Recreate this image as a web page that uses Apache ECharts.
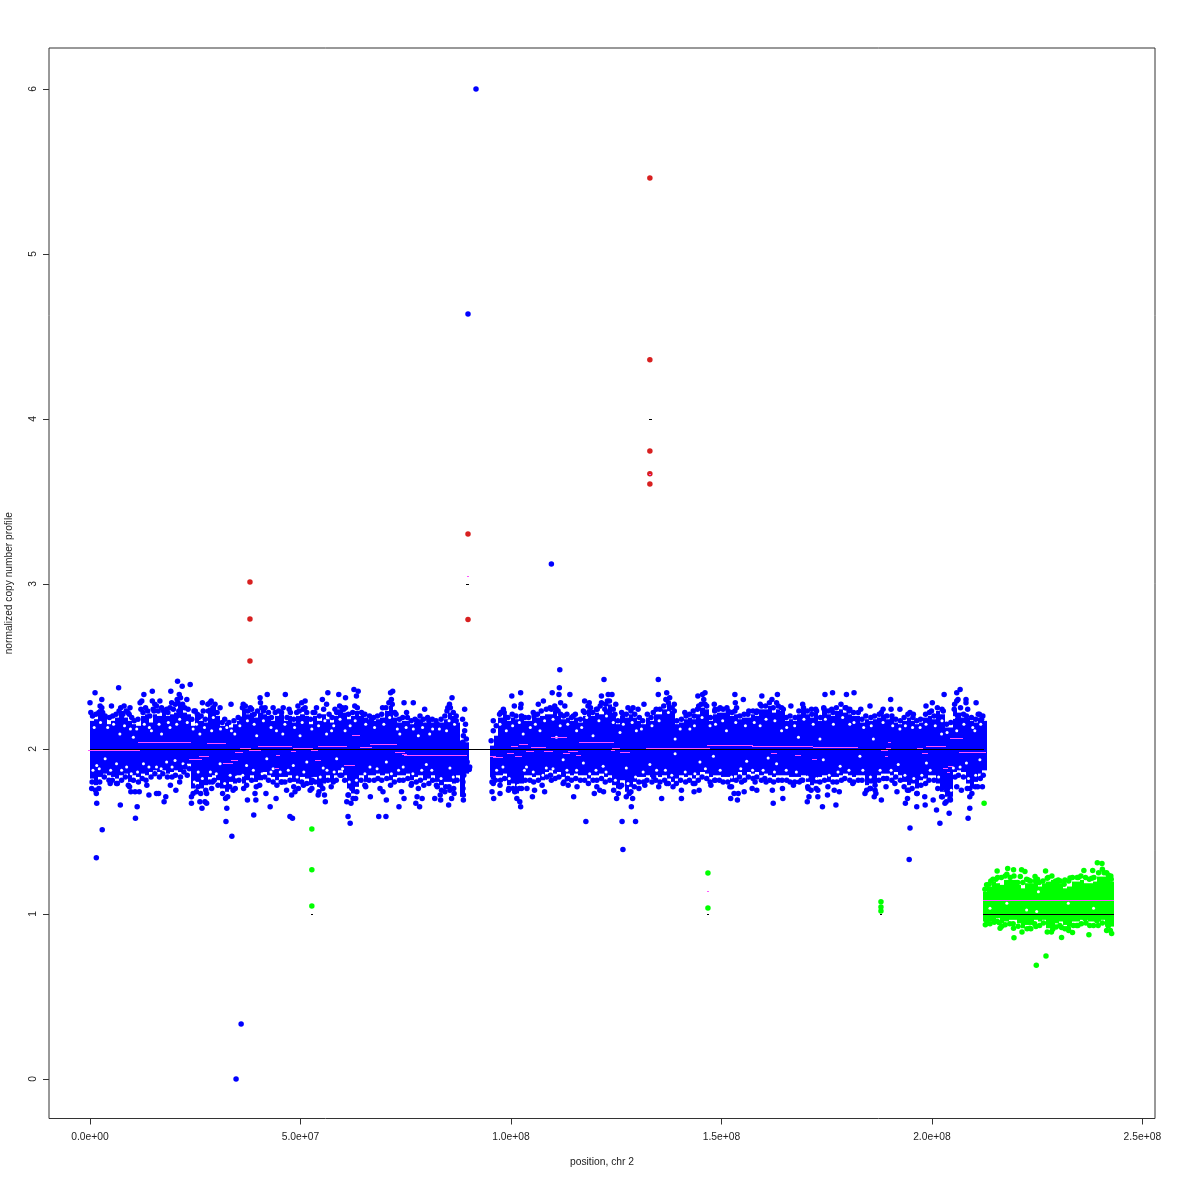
<!DOCTYPE html>
<html><head><meta charset="utf-8">
<style>html,body{margin:0;padding:0;background:#fff}#c{width:1180px;height:1180px}</style>
<script src="https://cdn.jsdelivr.net/npm/echarts@6/dist/echarts.min.js"></script></head>
<body><div id="c"></div>
<script>
// positions in Mb, values in copy number
const xTicks=[0,5e7,1e8,1.5e8,2e8,2.5e8];
const xTickLabels=['0.0e+00','5.0e+07','1.0e+08','1.5e+08','2.0e+08','2.5e+08'];
const yTicks=[0,1,2,3,4,5,6];
// dense cloud: upper and lower edge of the solid cloud, one value per 1 Mb
const leftArmStart=0;
const leftArmTop=[2.17,2.18,2.24,2.19,2.15,2.17,2.19,2.23,2.19,2.17,2.15,2.14,2.20,2.21,2.16,2.21,2.20,2.22,2.20,2.21,2.22,2.28,2.22,2.21,2.14,2.21,2.17,2.16,2.25,2.26,2.20,2.14,2.16,2.13,2.15,2.17,2.24,2.21,2.22,2.19,2.22,2.21,2.20,2.17,2.20,2.21,2.17,2.20,2.16,2.20,2.21,2.20,2.15,2.20,2.17,2.21,2.18,2.16,2.20,2.24,2.22,2.18,2.20,2.23,2.20,2.19,2.18,2.17,2.18,2.19,2.23,2.26,2.19,2.16,2.17,2.17,2.15,2.16,2.18,2.16,2.17,2.16,2.15,2.16,2.18,2.22,2.20,2.16,2.05,2.04];
const leftArmBottom=[1.82,1.78,1.83,1.85,1.84,1.83,1.82,1.84,1.85,1.80,1.84,1.83,1.85,1.84,1.86,1.87,1.86,1.87,1.85,1.86,1.87,1.86,1.89,1.91,1.76,1.80,1.76,1.78,1.83,1.84,1.81,1.76,1.74,1.80,1.79,1.84,1.79,1.81,1.84,1.80,1.81,1.86,1.84,1.83,1.81,1.83,1.83,1.84,1.80,1.79,1.83,1.82,1.78,1.83,1.77,1.79,1.84,1.80,1.84,1.87,1.84,1.76,1.73,1.77,1.84,1.80,1.84,1.84,1.85,1.84,1.85,1.81,1.83,1.84,1.84,1.85,1.81,1.83,1.84,1.81,1.82,1.84,1.80,1.78,1.80,1.80,1.79,1.84,1.71,1.85];
const rightArmStart=95;
const rightArmTop=[2.02,2.08,2.19,2.21,2.17,2.19,2.18,2.21,2.17,2.17,2.19,2.19,2.20,2.21,2.21,2.23,2.20,2.18,2.19,2.17,2.19,2.16,2.20,2.24,2.20,2.22,2.21,2.24,2.27,2.22,2.15,2.20,2.19,2.21,2.19,2.17,2.15,2.19,2.17,2.21,2.21,2.24,2.28,2.23,2.15,2.16,2.18,2.19,2.18,2.21,2.25,2.24,2.17,2.21,2.22,2.22,2.23,2.20,2.21,2.18,2.19,2.19,2.21,2.20,2.24,2.24,2.26,2.22,2.24,2.23,2.17,2.18,2.17,2.21,2.24,2.21,2.19,2.22,2.17,2.23,2.21,2.20,2.23,2.24,2.22,2.21,2.20,2.20,2.16,2.18,2.17,2.18,2.19,2.21,2.18,2.18,2.16,2.15,2.17,2.19,2.17,2.15,2.16,2.19,2.20,2.18,2.23,2.21,2.13,2.13,2.24,2.22,2.19,2.19,2.17,2.16,2.19,2.17];
const rightArmBottom=[1.83,1.84,1.84,1.85,1.78,1.79,1.73,1.79,1.84,1.84,1.83,1.84,1.81,1.86,1.87,1.85,1.86,1.83,1.85,1.84,1.85,1.84,1.84,1.82,1.84,1.84,1.85,1.83,1.84,1.78,1.76,1.81,1.74,1.77,1.80,1.83,1.83,1.84,1.83,1.84,1.83,1.84,1.82,1.80,1.82,1.84,1.83,1.84,1.82,1.84,1.86,1.85,1.83,1.84,1.84,1.83,1.83,1.80,1.84,1.86,1.84,1.86,1.85,1.86,1.84,1.85,1.84,1.83,1.84,1.84,1.84,1.83,1.83,1.83,1.84,1.80,1.78,1.79,1.83,1.84,1.80,1.83,1.83,1.84,1.85,1.84,1.83,1.84,1.84,1.78,1.79,1.78,1.84,1.85,1.85,1.84,1.86,1.84,1.80,1.78,1.79,1.76,1.81,1.82,1.84,1.84,1.79,1.74,1.71,1.71,1.86,1.87,1.86,1.79,1.76,1.80,1.85,1.87];
const greenArmStart=212.2;
const greenArmTop=[1.135,1.166,1.196,1.186,1.176,1.206,1.206,1.206,1.176,1.155,1.186,1.186,1.196,1.166,1.186,1.196,1.206,1.186,1.186,1.155,1.166,1.196,1.196,1.206,1.186,1.186,1.196,1.226,1.226,1.226,1.196];
const greenArmBottom=[0.954,0.954,0.964,0.974,0.943,0.954,0.964,0.964,0.943,0.913,0.933,0.933,0.964,0.954,0.964,0.913,0.913,0.943,0.954,0.933,0.923,0.954,0.954,0.964,0.964,0.954,0.954,0.954,0.964,0.923,0.923];
const bluePoints=[[1.2,2.34],[0,2.28],[0.2,2.22],[2.8,2.30],[2.8,2.25],[2.1,2.22],[3,2.22],[5.1,2.26],[6.8,2.37],[6.9,2.23],[8.1,2.26],[9.5,2.25],[9.3,2.21],[12.8,2.33],[12.3,2.29],[11.9,2.28],[14.8,2.35],[14.8,2.29],[15.4,2.27],[15.2,2.23],[16.6,2.29],[18.2,2.24],[19.2,2.35],[19.4,2.28],[20.8,2.41],[21.9,2.38],[23.8,2.39],[21.2,2.33],[20.7,2.30],[23,2.30],[21.8,2.25],[21.1,2.23],[24.7,2.23],[26.7,2.28],[26.9,2.23],[25.5,2.21],[28.5,2.28],[29.7,2.27],[28.1,2.23],[30.9,2.25],[33.5,2.27],[36.4,2.27],[36.8,2.23],[36,2.18],[38.4,2.24],[40.4,2.31],[42.1,2.33],[40.5,2.28],[41.6,2.25],[43.5,2.25],[46.4,2.33],[45.9,2.25],[47.3,2.24],[49.4,2.26],[51.1,2.29],[50.3,2.28],[49.1,2.22],[51.1,2.25],[53,2.22],[53.8,2.25],[55.2,2.30],[56.5,2.34],[56.2,2.27],[59.1,2.33],[58.2,2.24],[60.7,2.31],[60.7,2.25],[62.7,2.36],[63.7,2.35],[63.3,2.32],[62.9,2.26],
[1.6,1.67],[2.9,1.51],[1.5,1.34],[1.5,1.73],[0.4,1.76],[2.1,1.76],[4.8,1.79],[6.3,1.79],[7.2,1.66],[9.1,1.78],[10.8,1.58],[11.2,1.65],[10.7,1.74],[9.7,1.74],[11.7,1.74],[13.5,1.78],[14,1.72],[15.8,1.73],[16.3,1.73],[17.6,1.68],[18,1.71],[19.1,1.78],[20.4,1.75],[21.3,1.80],[22.6,1.89],[23.1,1.84],[24.1,1.67],[24.1,1.71],[26.1,1.68],[27.3,1.68],[27.7,1.67],[26.6,1.64],[27.7,1.73],[28.9,1.76],[29.1,1.80],[25.3,1.74],[32.5,1.64],[32.3,1.56],[33.7,1.47],[32.7,1.71],[34,1.75],[37.4,1.69],[38.9,1.60],[39.4,1.69],[39.2,1.73],[41.8,1.73],[42.8,1.65],[44.2,1.70],[45.4,1.80],[46.7,1.75],[47.9,1.72],[48.7,1.74],[47.5,1.59],[48.1,1.58],[50.7,1.78],[52.8,1.81],[54.2,1.72],[55.7,1.72],[55.9,1.68],[52.7,1.76],[54.8,1.78],[57.8,1.80],[59.8,1.84],[61.3,1.59],[61.8,1.55],[61,1.68],[62,1.67],[63.1,1.70],[61.4,1.72],[62.2,1.76],
[71.4,2.34],[71.9,2.35],[71.8,2.27],[74.6,2.28],[76.8,2.28],[79.5,2.24],[69.5,2.25],[75.2,2.22],[86,2.31],[85.6,2.25],[84.8,2.23],[89,2.24],[88.5,2.18],[87,2.20],[82.5,2.15],[64.9,2.21],[66.9,2.18],[72.4,2.22],[77.6,2.17],[80.5,2.17],[89,2.11],[88.6,2.04],
[95.8,2.17],[95.8,2.11],[97.6,2.22],[98.4,2.22],[100.2,2.32],[102.3,2.34],[100.8,2.26],[102.3,2.25],[102.5,2.20],[105.3,2.22],[106.5,2.27],[107.7,2.29],[109.8,2.34],[111.6,2.48],[111.5,2.37],[111.4,2.33],[111.8,2.28],[114,2.33],[112.8,2.26],[109.6,2.24],[111.8,2.21],[117.5,2.29],[118.6,2.28],[117.5,2.22],[122.1,2.42],[121.5,2.32],[123.1,2.33],[124,2.33],[122.9,2.29],[124.9,2.27],[121.5,2.28],[122.3,2.24],[120.3,2.24],[124.7,2.21],[126.6,2.21],[127.8,2.25],[129,2.25],[130.2,2.24],[131.6,2.27],[135,2.42],[135,2.33],[133.8,2.22],[114.8,2.20],
[65.3,1.78],[66.6,1.71],[68.6,1.59],[70.3,1.59],[69.6,1.74],[70.4,1.69],[68.9,1.76],[73.4,1.65],[74.6,1.70],[74,1.74],[77.4,1.67],[78.3,1.65],[78.9,1.70],[77.7,1.71],[78,1.76],[76.4,1.79],[83.3,1.69],[81.9,1.70],[83.2,1.72],[85.2,1.66],[84.3,1.74],[85.5,1.75],[86.5,1.73],[85.9,1.70],[82.3,1.78],[88.7,1.69],[88.7,1.72],[88.6,1.76],[88.6,1.80],[88.8,1.84],[90.1,1.875],[90.2,1.89],[89.6,1.92],[88.8,1.95],
[95.5,1.74],[95.9,1.70],[97.4,1.73],[97.4,1.78],[95.8,1.79],[95.8,1.83],[99.5,1.76],[100.9,1.74],[102.1,1.68],[102.3,1.65],[102,1.76],[103.8,1.76],[105.6,1.75],[105.1,1.71],[108,1.74],[109.6,1.81],[112.4,1.79],[113.6,1.78],[113.4,1.82],[115.7,1.77],[114.9,1.71],[117.8,1.56],[119.8,1.73],[121.1,1.75],[122,1.74],[120.4,1.77],[125.1,1.70],[125.9,1.77],[126.4,1.56],[126.6,1.39],[128.6,1.65],[128.9,1.70],[129.6,1.56],[128.1,1.73],[130.4,1.76],[131.8,1.78],[133.9,1.83],[135.1,1.77],
[137,2.34],[137.4,2.28],[138.8,2.27],[138.8,2.23],[141.3,2.22],[143.3,2.23],[144.4,2.32],[145.5,2.33],[146.1,2.34],[146.1,2.27],[144.6,2.26],[148.3,2.27],[148.5,2.24],[149.7,2.25],[151.6,2.23],[153.2,2.33],[153.3,2.28],[155.2,2.30],[153.2,2.23],[156.5,2.23],[159.6,2.32],[158.4,2.23],[159.5,2.26],[162,2.30],[163.3,2.33],[163.1,2.28],[164.7,2.24],[166.5,2.26],[169.3,2.27],[171.4,2.24],[172.6,2.23],[174.6,2.33],[176.4,2.34],[174.4,2.24],[176.2,2.24],[179.7,2.33],[181.5,2.34],[179.6,2.25],[180.5,2.24],[183.1,2.24],[185.3,2.26],[188,2.22],[190.2,2.30],[190.3,2.24],[192.4,2.24],[190.6,2.18],[194.8,2.22],[195.6,2.21],[198.6,2.26],[200.1,2.28],[202.9,2.33],[199.9,2.23],[202.7,2.23],[205.9,2.34],[206.7,2.36],[205.9,2.29],[205.3,2.24],[208.1,2.30],[208.1,2.28],[210.5,2.28],[211,2.21],[208.2,2.20],[211.8,2.18],
[135.8,1.70],[137,1.79],[140.5,1.75],[140.5,1.70],[143.5,1.74],[144.7,1.75],[143.7,1.79],[147.5,1.78],[148.5,1.81],[152.2,1.70],[153.8,1.69],[153,1.73],[154,1.73],[155.4,1.74],[152,1.77],[154.8,1.80],[157.3,1.76],[158.4,1.75],[158,1.80],[160.6,1.80],[162.3,1.67],[162.1,1.75],[164.6,1.70],[164.5,1.76],[167.1,1.78],[169,1.81],[170.6,1.76],[170.8,1.71],[170.4,1.68],[172.9,1.71],[172.9,1.75],[174,1.65],[175.2,1.72],[176.8,1.75],[177.2,1.66],[178,1.74],[181.2,1.79],[184.1,1.73],[186.5,1.78],[185.3,1.76],[186.7,1.73],[188,1.69],[186.3,1.71],[189.1,1.77],[191.7,1.74],[191.2,1.79],[193.7,1.67],[194.2,1.70],[196.4,1.65],[194.8,1.52],[194.6,1.33],[194.2,1.75],[196.4,1.73],[198.3,1.71],[198.4,1.66],[200.3,1.69],[201.1,1.63],[201.9,1.55],[204.1,1.61],[203.1,1.67],[204.4,1.69],[202.3,1.71],[205.9,1.77],[207,1.75],[209,1.71],[209,1.64],[208.6,1.58],[210.9,1.77],[212,1.77],[209,1.76],[203.5,1.75],
[91.7,6.0],[89.8,4.636],[109.6,3.12],[34.7,0],[35.9,0.333]];
// points along the cloud's upper and lower rim
const blueRimTop=[[0.6,2.20],[1.4,2.21],[2.4,2.26],[2.6,2.20],[3.6,2.20],[4.6,2.19],[5.4,2.20],[6.2,2.21],[7.3,2.25],[7.8,2.21],[8.6,2.23],[9,2.22],[9.9,2.19],[10.5,2.17],[11.4,2.18],[12.1,2.24],[12.6,2.22],[13.2,2.25],[13.7,2.23],[14.2,2.20],[15,2.24],[15.8,2.26],[16.2,2.23],[17,2.25],[17.5,2.23],[18.5,2.22],[19,2.25],[19.8,2.24],[20.3,2.27],[20.9,2.28],[21.5,2.31],[22,2.27],[22.5,2.25],[23.3,2.24],[24.2,2.18],[25,2.23],[25.8,2.19],[26.4,2.20],[27.4,2.18],[28,2.27],[28.8,2.29],[29.2,2.25],[30.2,2.22],[31.4,2.16],[32,2.18],[33,2.16],[34.2,2.17],[35.2,2.19],[36.2,2.25],[36.9,2.26],[37.5,2.23],[38.1,2.25],[39,2.21],[39.8,2.23],[40.8,2.25],[41.2,2.23],[42.4,2.22],[43.1,2.19],[44,2.22],[44.8,2.23],[45.5,2.22],[46.8,2.19],[47.6,2.22],[48.4,2.18],[49.7,2.23],[50.6,2.24],[51.5,2.22],[52.4,2.18],[53.4,2.22],[54.5,2.20],[55.5,2.24],[56.8,2.21],[57.5,2.19],[58.6,2.22],[59.3,2.26],[59.9,2.25],[60.3,2.24],[61.4,2.21],[62.4,2.22],[63.5,2.25],[64.5,2.22],[65.3,2.21],[66.4,2.20],[67.4,2.19],[68.3,2.20],[69.3,2.21],[70.3,2.25],[71,2.28],[71.6,2.30],[72.7,2.21],[73.5,2.18],[74.3,2.19],[75.4,2.19],[76.3,2.17],[77.2,2.18],[78.4,2.20],[79.2,2.18],[80.2,2.19],[81.3,2.18],[82.2,2.17],[83.4,2.18],[84.3,2.20],[85,2.25],[85.4,2.27],[86.3,2.22],[87,2.17],[88.7,2.08],[89.2,2.15],[89.4,2.06],
[95.3,2.05],[96.5,2.14],[97.3,2.21],[98.2,2.24],[99.3,2.19],[100.3,2.21],[101.2,2.20],[102.4,2.27],[103.3,2.19],[104.2,2.19],[105.5,2.20],[106.3,2.21],[107.2,2.23],[108.4,2.24],[109.3,2.25],[110.4,2.26],[110.8,2.24],[111.2,2.23],[112.5,2.20],[113.3,2.21],[114.4,2.19],[115.3,2.21],[116.5,2.18],[117.2,2.23],[118.3,2.26],[118.9,2.25],[119.4,2.22],[120.5,2.24],[121.2,2.26],[122.5,2.27],[123.4,2.29],[124.3,2.24],[125.4,2.17],[126.3,2.22],[127.4,2.21],[128.5,2.23],[129.4,2.21],[130.5,2.19],[131.3,2.17],[132.4,2.21],[133.3,2.19],[134.5,2.24],[135.4,2.24],[136.3,2.26],[136.8,2.30],[137.7,2.31],[138.3,2.25],[139.4,2.17],[140.5,2.18],[141.6,2.20],[142.4,2.21],[143.5,2.20],[144.3,2.24],[145.2,2.27],[145.8,2.30],[146.5,2.26],[147.4,2.19],[148.4,2.23],[149.3,2.24],[150.4,2.24],[151.3,2.25],[152.5,2.22],[153.6,2.25],[154.4,2.20],[155.4,2.21],[156.3,2.21],[157.5,2.23],[158.3,2.22],[159.2,2.27],[160.5,2.26],[161.4,2.28],[162.3,2.25],[163.5,2.26],[164.3,2.25],[165.4,2.19],[166.3,2.20],[167.5,2.19],[168.4,2.23],[169.5,2.25],[170.4,2.23],[171.5,2.21],[172.4,2.24],[173.5,2.19],[174.3,2.25],[175.4,2.23],[176.5,2.22],[177.3,2.25],[178.4,2.27],[179.4,2.25],[180.3,2.23],[181.4,2.22],[182.5,2.22],[183.4,2.18],[184.3,2.20],[185.5,2.19],[186.4,2.20],[187.5,2.21],[188.4,2.24],[189.3,2.20],[190.5,2.20],[191.4,2.18],[192.5,2.17],[193.4,2.19],[194.3,2.21],[195.5,2.19],[196.4,2.17],[197.3,2.18],[198.5,2.21],[199.4,2.22],[200.5,2.20],[201.3,2.25],[202.4,2.24],[203.5,2.15],[204.5,2.16],[205.4,2.27],[206.2,2.30],[206.8,2.25],[207.5,2.21],[208.5,2.24],[209.4,2.19],[210.4,2.18],[211.3,2.21],[212.1,2.20]];
const blueRimBottom=[[0.5,1.80],[1.3,1.75],[2.3,1.80],[3.4,1.83],[4.5,1.81],[5.3,1.81],[6.5,1.79],[7.5,1.81],[8.4,1.83],[9.4,1.77],[10.3,1.81],[11.5,1.80],[12.4,1.82],[13.3,1.81],[14.5,1.83],[15.4,1.85],[16.5,1.83],[17.3,1.85],[18.4,1.83],[19.5,1.83],[20.3,1.84],[21.5,1.83],[22.3,1.86],[23.6,1.88],[24.5,1.73],[25.6,1.77],[26.3,1.73],[27.5,1.75],[28.4,1.80],[29.5,1.81],[30.4,1.78],[31.5,1.73],[32.2,1.70],[33.2,1.77],[34.5,1.76],[35.4,1.81],[36.5,1.76],[37.2,1.78],[38.4,1.81],[39.5,1.77],[40.3,1.78],[41.5,1.83],[42.4,1.81],[43.5,1.80],[44.4,1.78],[45.6,1.80],[46.3,1.80],[47.5,1.81],[48.4,1.77],[49.5,1.76],[50.3,1.80],[51.5,1.79],[52.3,1.75],[53.5,1.80],[54.4,1.74],[55.3,1.76],[56.5,1.81],[57.3,1.77],[58.5,1.81],[59.4,1.84],[60.5,1.81],[61.3,1.72],[62.5,1.70],[63.4,1.74],[64.4,1.81],[65.5,1.77],[66.3,1.81],[67.5,1.81],[68.4,1.82],[69.3,1.81],[70.5,1.82],[71.4,1.78],[72.3,1.80],[73.5,1.81],[74.4,1.81],[75.5,1.82],[76.3,1.78],[77.5,1.80],[78.5,1.81],[79.3,1.78],[80.5,1.79],[81.4,1.81],[82.5,1.77],[83.5,1.75],[84.5,1.77],[85.3,1.77],[86.4,1.76],[87.2,1.81],
[95.5,1.80],[96.3,1.81],[97.5,1.81],[98.5,1.82],[99.4,1.75],[100.5,1.76],[101.4,1.70],[102.5,1.76],[103.4,1.81],[104.5,1.81],[105.4,1.80],[106.5,1.81],[107.4,1.78],[108.5,1.83],[109.4,1.84],[110.5,1.82],[111.4,1.83],[112.6,1.80],[113.5,1.82],[114.4,1.81],[115.4,1.82],[116.5,1.81],[117.5,1.81],[118.4,1.79],[119.5,1.81],[120.4,1.81],[121.5,1.82],[122.4,1.80],[123.5,1.81],[124.4,1.75],[125.5,1.73],[126.3,1.78],[127.4,1.71],[128.5,1.74],[129.3,1.77],[130.4,1.80],[131.5,1.80],[132.3,1.81],[133.5,1.80],[134.4,1.81],[135.4,1.80],[136.5,1.81],[137.4,1.79],[138.5,1.77],[139.3,1.79],[140.3,1.81],[141.5,1.80],[142.4,1.81],[143.3,1.79],[144.5,1.81],[145.4,1.83],[146.5,1.82],[147.3,1.80],[148.4,1.81],[149.5,1.81],[150.4,1.80],[151.5,1.80],[152.4,1.77],[153.5,1.81],[154.3,1.83],[155.5,1.81],[156.4,1.83],[157.5,1.82],[158.4,1.83],[159.5,1.81],[160.3,1.82],[161.5,1.81],[162.4,1.80],[163.5,1.81],[164.4,1.81],[165.5,1.81],[166.3,1.80],[167.4,1.80],[168.5,1.80],[169.3,1.81],[170.5,1.77],[171.3,1.75],[172.5,1.76],[173.4,1.80],[174.5,1.81],[175.3,1.77],[176.5,1.80],[177.4,1.80],[178.5,1.81],[179.3,1.82],[180.5,1.81],[181.4,1.80],[182.5,1.81],[183.4,1.81],[184.5,1.75],[185.4,1.76],[186.5,1.75],[187.4,1.81],[188.5,1.82],[189.3,1.82],[190.5,1.81],[191.4,1.83],[192.5,1.81],[193.4,1.77],[194.5,1.75],[195.3,1.76],[196.5,1.73],[197.4,1.78],[198.5,1.79],[199.3,1.81],[200.5,1.81],[201.4,1.76],[202.5,1.71],[203.4,1.68],[204.3,1.70],[205.5,1.83],[206.3,1.84],[207.5,1.83],[208.4,1.76],[209.5,1.73],[210.3,1.77],[211.5,1.82],[212.2,1.84]];
const redPoints=[[38,3.012],[38,2.788],[38,2.533],[89.8,3.303],[89.8,2.785],[133,5.46],[133,4.358],[133,3.806],[133,3.667],[133,3.606]];
const greenPoints=[[52.7,1.515],[52.7,1.267],[52.7,1.048],[146.8,1.248],[146.8,1.036],[187.9,1.073],[187.9,1.042],[187.9,1.018],[212.4,1.67],
[215.5,1.26],[218,1.275],[219.4,1.267],[221.3,1.267],[222.1,1.257],[221,1.226],[224.5,1.226],[225.1,1.21],[227,1.26],[222.9,1.206],[217.8,1.24],[215.6,1.22],[214,1.2],[213,1.176],[230,1.206],[231.6,1.206],[232.8,1.218],[234.8,1.22],[236.1,1.263],[238.2,1.263],[239.3,1.31],[240.4,1.305],[240.5,1.27],[241.9,1.236],[242.5,1.23],[242.3,1.18],[238,1.216],[227.4,1.216],[229.7,1.186],
[216.2,0.913],[219.5,0.855],[219.4,0.913],[221.7,0.952],[223.3,0.913],[224.7,0.923],[227.1,0.745],[224.8,0.689],[230.8,0.857],[230.8,0.917],[228.7,0.907],[233.4,0.887],[232.4,0.913],[234.7,0.929],[237.3,0.873],[236.4,0.97],[239.2,0.958],[242.7,0.881],[241.9,0.927],[214.6,0.968],[213,0.958],[216,0.947],
[212.6,1.15],[213.6,1.18],[214.5,1.21],[215.2,1.21],[216.5,1.22],[217.4,1.23],[218.6,1.22],[219.5,1.23],[220.4,1.19],[221.6,1.19],[222.5,1.21],[223.4,1.2],[224.6,1.2],[225.5,1.19],[226.4,1.2],[227.6,1.22],[228.5,1.23],[229.4,1.2],[230.5,1.2],[231.4,1.18],[232.5,1.2],[233.4,1.22],[234.5,1.22],[235.4,1.23],[236.5,1.22],[237.4,1.21],[238.5,1.22],[239.6,1.25],[240.9,1.25],[241.5,1.25],[242.6,1.21],
[212.7,0.935],[213.8,0.94],[214.8,0.95],[215.5,0.955],[216.6,0.925],[217.4,0.935],[218.5,0.94],[219.3,0.94],[220.5,0.925],[221.4,0.89],[222.6,0.91],[223.5,0.91],[224.4,0.94],[225.6,0.93],[226.5,0.945],[227.4,0.89],[228.4,0.89],[229.5,0.92],[230.4,0.93],[231.6,0.91],[232.5,0.90],[233.6,0.93],[234.4,0.93],[235.5,0.94],[236.6,0.945],[237.5,0.93],[238.4,0.93],[239.5,0.93],[240.5,0.945],[241.5,0.90],[242.4,0.90]];
// small uncovered specks inside the clouds
const cloudGaps=[[7.1,2.09],[10.3,2.07],[14.6,2.11],[17,2.09],[19,2.13],[20.6,2.15],[24.5,2.12],[26.1,2.09],[28.9,2.11],[32.5,2.13],[34.4,2.09],[39.6,2.08],[44.3,2.11],[45.8,2.09],[49.9,2.08],[56.2,2.09],[57.4,2.11],[60.6,2.11],[1.6,1.90],[3.6,1.94],[6.3,1.91],[8.7,1.89],[12.7,1.91],[15.8,1.89],[18.2,1.92],[20.2,1.93],[25.7,1.86],[30.9,1.91],[33.3,1.84],[37.2,1.90],[42,1.94],[43.5,1.88],[48.3,1.90],[51.5,1.92],[55.4,1.885],[58.6,1.94],[73.6,2.09],[78,2.08],[80.7,2.09],[84.7,2.11],[98.9,2.11],[102.9,2.09],[106.9,2.11],[110.8,2.07],[115.6,2.11],[119.5,2.08],[125.9,2.10],[129.8,2.11],[66.5,1.89],[70.4,1.92],[74.4,1.89],[79.9,1.905],[85.5,1.885],[98.1,1.89],[103.7,1.89],[108.4,1.885],[112.4,1.935],[117.2,1.915],[121.9,1.895],[127.4,1.885],[133,1.905],[139,2.06],[142.5,2.12],[147.3,2.14],[151.2,2.11],[159.2,2.14],[164.3,2.11],[168.3,2.07],[173.4,2.06],[180.5,2.15],[186.1,2.06],[192.4,2.12],[197.2,2.13],[202.3,2.09],[205.9,2.11],[210.2,2.11],[139,1.97],[144.9,1.92],[148.1,1.955],[156,1.925],[161.1,1.945],[163.1,1.91],[174.2,1.935],[178.2,1.895],[182.9,1.955],[192,1.905],[198.7,1.915],[205.1,1.885],[208.2,1.915],[211.4,1.935],[225.3,1.135],[217.8,1.065],[232.4,1.065],[224.9,1.014],[238.4,1.034],[213.8,1.034],[222.5,1.024],
[1,2.13],[2.5,2.16],[4.2,2.13],[5.6,2.15],[8.2,2.14],[9.6,2.12],[11.1,2.12],[12.9,2.15],[14.1,2.13],[16.4,2.15],[18.6,2.16],[21.3,2.18],[23.1,2.16],[25.3,2.15],[27.2,2.13],[29.3,2.19],[31,2.12],[33.6,2.11],[35.6,2.14],[37.4,2.17],[39,2.15],[41.2,2.17],[43,2.13],[46.3,2.15],[48.6,2.13],[50.4,2.16],[52.7,2.12],[54.3,2.14],[55.8,2.17],[57.9,2.14],[59.4,2.18],[61.8,2.14],[63,2.17],[65.5,2.15],[67.6,2.13],[69.8,2.15],[71.2,2.19],[73,2.12],[75.1,2.13],[76.8,2.12],[79,2.13],[81.4,2.12],[83,2.12],[85.3,2.17],[86.6,2.15],
[97.4,2.15],[100.4,2.14],[102,2.16],[104.6,2.13],[105.8,2.15],[108,2.17],[110,2.18],[111.7,2.14],[113.5,2.15],[116.8,2.13],[118,2.19],[120.9,2.17],[122.7,2.20],[124.3,2.16],[126.7,2.15],[128.8,2.16],[131,2.12],[133.5,2.14],[135.2,2.17],[137.4,2.22],[140.2,2.12],[143.6,2.14],[145.4,2.19],[148.6,2.15],[150.3,2.17],[153.4,2.16],[155.7,2.14],[157.8,2.16],[160.6,2.18],[162.7,2.17],[165.5,2.13],[167.4,2.14],[169.6,2.18],[171.8,2.15],[174.7,2.18],[176.6,2.15],[178.8,2.19],[181.5,2.16],[183.8,2.13],[185.6,2.14],[188.4,2.16],[190.7,2.14],[193.7,2.14],[195.4,2.13],[198.6,2.15],[200.8,2.14],[202.4,2.17],[203.6,2.10],[205.2,2.19],[207.6,2.15],[209.7,2.13],[211.6,2.15],
[0.7,1.87],[2.2,1.88],[4.9,1.87],[7.5,1.87],[9.8,1.85],[11.3,1.86],[14,1.89],[16.9,1.88],[19.5,1.89],[22.1,1.91],[24.8,1.80],[26.7,1.82],[28.6,1.86],[30,1.85],[32,1.79],[34.8,1.83],[36.3,1.84],[38.8,1.87],[40.9,1.85],[43,1.86],[45.2,1.86],[47.1,1.87],[49.2,1.83],[50.8,1.86],[52.9,1.82],[54.7,1.83],[56.3,1.87],[58,1.86],[60,1.88],[61.6,1.80],[63.3,1.81],[65.3,1.85],[68.2,1.88],[71.6,1.85],[73.3,1.87],[76.7,1.85],[78.8,1.87],[81.2,1.87],[83.4,1.82],[86.3,1.83],
[96.6,1.87],[99.6,1.82],[101.7,1.78],[103.2,1.87],[105.3,1.86],[107.6,1.84],[110,1.88],[113.3,1.87],[115.6,1.87],[118.7,1.85],[120.2,1.87],[122.6,1.86],[124.8,1.81],[127.8,1.79],[129.6,1.83],[131.4,1.86],[134.6,1.87],[136.7,1.87],[138.2,1.84],[141.4,1.86],[143.7,1.85],[146.2,1.88],[149.7,1.87],[152.4,1.83],[154.6,1.88],[157.4,1.87],[159.9,1.87],[162.6,1.86],[165.4,1.87],[167.8,1.86],[170.4,1.83],[172.6,1.82],[175.6,1.84],[177.7,1.86],[180.3,1.87],[183.6,1.87],[185.4,1.83],[187.7,1.87],[190.3,1.87],[193.6,1.84],[195.7,1.82],[197.6,1.84],[199.6,1.87],[201.6,1.83],[203.2,1.75],[204.6,1.75],[206.7,1.89],[208.7,1.82],[210.4,1.84]];
const magentaSegments=[[-0.4,11.9,1.994],[11.5,24.1,2.042],[23.6,26.5,1.939],[26,28.3,1.96],[27.7,32.2,2.036],[31.7,34,1.915],[33.5,35.1,1.933],[34.4,36.3,1.982],[35.6,38.2,2.006],[37.8,40.6,1.994],[40,48.1,2.018],[47.7,48.9,1.988],[48.3,53,2.006],[44,45,1.885],[44.3,45.1,1.964],[52.5,54.1,1.994],[53.4,54.9,1.933],[54.1,61.1,2.018],[60.4,63,1.903],[62.2,64.1,2.085],[64.1,66.9,2.012],[66.5,73,2.03],[72.4,74.8,1.982],[74.2,75.2,1.97],[74.6,89.6,1.964],[95,96.4,1.958],[95.8,98,1.952],[97,99.7,2],[99.1,100.7,1.976],[100,101.7,2.018],[100.9,102.7,1.958],[101.9,104.1,2.03],[103.5,105.4,1.988],[104.7,108.4,2.012],[107.9,110,1.988],[109.5,113.3,2.073],[112.4,114.1,1.976],[113.6,116,1.988],[115.4,116.6,1.964],[116.1,124.4,2.042],[123.7,124.7,1.994],[124,126,2.006],[125.5,128.1,2],[125.9,128.4,1.982],[128.1,132.2,2],[132.2,135.4,2.006],[135.4,147.3,2.006],[146.6,157.6,2.024],[157.2,162.3,2.02],[162.3,171.8,2.018],[161.8,163.1,1.976],[167.5,168.8,1.964],[171.6,172.6,1.939],[171.8,182.5,2.012],[182.1,188.1,2],[187.9,189.5,1.994],[189.1,190.2,2.006],[188.8,189.6,1.958],[189.5,190.4,2.042],[190,196.4,2],[196.4,198,2.006],[197.6,199.1,1.976],[198.6,203.3,2.018],[202.7,203.9,1.885],[203.9,205.1,1.897],[203.5,204.4,1.859],[204.3,207.5,2.067],[206.5,212.8,1.982],[212.2,243.3,1.083],[89.5,90.1,3.05],[146.6,147,1.14],[132.7,133.3,3.667]];
const blackSegments=[[0,212.4,2],[212.2,243.3,1],[89.4,90,3],[132.7,133.4,4],[146.5,147.1,1],[52.4,53,1],[187.6,188.2,1]];

function bandRows(start,top,bottom){
  return top.map((t,i)=>[(start+i)*1e6,(start+i+1)*1e6,bottom[i],t]);
}
const toBp=p=>[p[0]*1e6,p[1]];
const segRows=s=>s.map(r=>[r[0]*1e6,r[1]*1e6,r[2]]);
function bandSeries(rows,color){
  return {type:'custom',silent:true,clip:false,z:2,encode:{x:[0,1],y:[2,3]},data:rows,animation:false,
    renderItem(params,api){
      const a=api.coord([api.value(0),api.value(3)]),b=api.coord([api.value(1),api.value(2)]);
      return {type:'rect',shape:{x:Math.round(a[0]),y:a[1],width:Math.round(b[0])-Math.round(a[0]),height:b[1]-a[1]},style:{fill:color}};
    }};
}
function segSeries(rows,color,z){
  return {type:'custom',silent:true,clip:false,z:z,encode:{x:[0,1],y:2},data:rows,animation:false,
    renderItem(params,api){
      const a=api.coord([api.value(0),api.value(2)]),b=api.coord([api.value(1),api.value(2)]);
      return {type:'rect',shape:{x:Math.round(a[0]),y:Math.round(a[1]),width:Math.round(b[0])-Math.round(a[0]),height:1},style:{fill:color}};
    }};
}
function pts(data,color,z,size){
  return {type:'scatter',data:data.map(toBp),symbol:'circle',symbolSize:size||5.5,itemStyle:{color:color,opacity:1},z:z,silent:true,animation:false,large:false};
}
const font='"Liberation Sans",Arial,sans-serif';
const chart=echarts.init(document.getElementById('c'),null,{renderer:'canvas'});
chart.setOption({
  animation:false,
  grid:{left:49,top:48,width:1106,height:1070.5,show:true,borderColor:'#333',borderWidth:1,backgroundColor:'#fff',outerBoundsMode:'none'},
  xAxis:{type:'value',min:-9.74e6,max:2.53e8,splitLine:{show:false},
    axisLine:{show:false,onZero:false},
    axisTick:{show:true,length:6,customValues:xTicks,lineStyle:{color:'#333',width:1}},
    axisLabel:{show:true,customValues:xTicks,margin:14,fontFamily:font,fontSize:10.3,color:'#222',
      formatter:v=>xTickLabels[xTicks.indexOf(v)]},
    name:'position, chr 2',nameLocation:'middle',nameGap:44,nameTextStyle:{fontFamily:font,fontSize:10.3,color:'#222',verticalAlign:'middle'}},
  yAxis:{type:'value',min:-0.24,max:6.248,splitLine:{show:false},
    axisLine:{show:false,onZero:false},
    axisTick:{show:true,length:6,customValues:yTicks,lineStyle:{color:'#333',width:1}},
    axisLabel:{show:true,customValues:yTicks,rotate:90,margin:11,fontFamily:font,fontSize:10.3,color:'#222'},
    name:'normalized copy number profile',nameLocation:'middle',nameGap:40,nameTextStyle:{fontFamily:font,fontSize:10.2,color:'#222',verticalAlign:'middle'}},
  series:[
    bandSeries(bandRows(leftArmStart,leftArmTop,leftArmBottom),'#0000ff'),
    bandSeries(bandRows(rightArmStart,rightArmTop,rightArmBottom),'#0000ff'),
    bandSeries(bandRows(greenArmStart,greenArmTop,greenArmBottom),'#00ff00'),
    pts(cloudGaps,'#ffffff',2.5,3),
    pts(bluePoints,'#0000ff',3),
    pts(blueRimTop,'#0000ff',3),
    pts(blueRimBottom,'#0000ff',3),
    pts(greenPoints,'#00ff00',3),
    pts(redPoints,'#d82020',4),
    segSeries(segRows(magentaSegments),'#ff55ff',5),
    segSeries(segRows(blackSegments),'#000000',6)
  ]
});
</script></body></html>
